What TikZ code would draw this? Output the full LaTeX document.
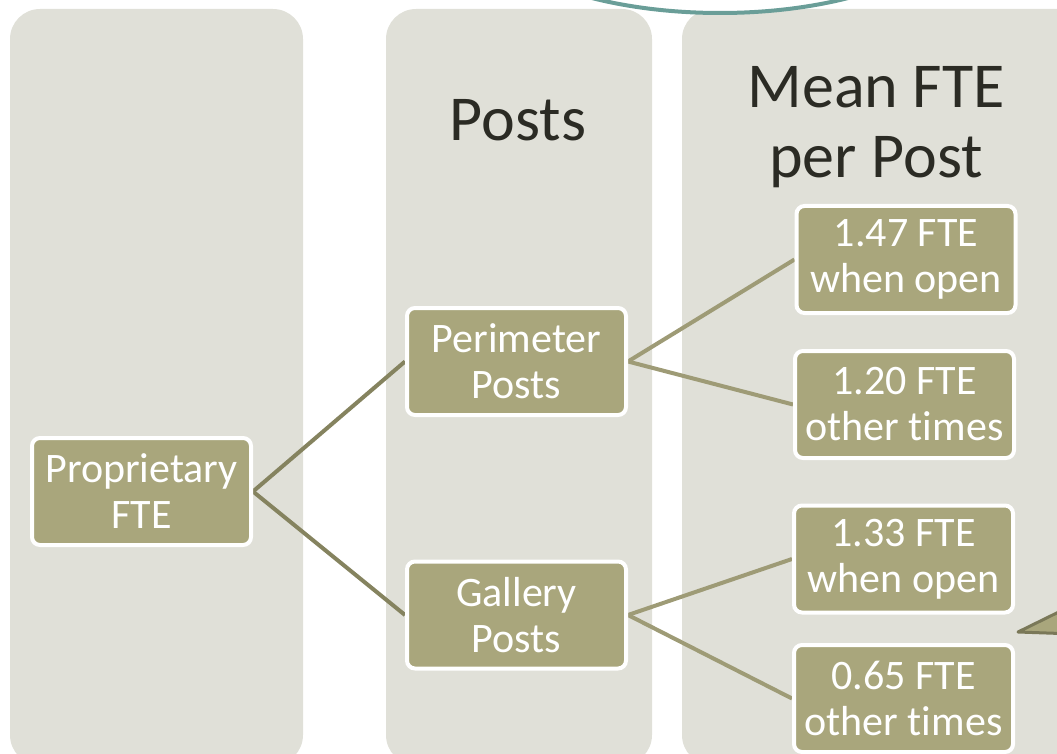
\documentclass[tikz,border=0pt]{standalone}
\usepackage{fontspec}
\setsansfont{Carlito}[RawFeature=-liga]
\usetikzlibrary{backgrounds}
\definecolor{colbg}{HTML}{E0E0D8}
\definecolor{boxfill}{HTML}{A9A67C}
\definecolor{linkdark}{HTML}{85835F}
\definecolor{linklight}{HTML}{9E9B76}
\definecolor{titletext}{HTML}{2B2B24}
\definecolor{ringteal}{HTML}{6A9E98}
\definecolor{calloutline}{HTML}{7A7858}
\tikzset{every picture/.style={/utils/exec={\sffamily}}}
\tikzset{col/.style={fill=colbg,rounded corners=30pt}}
\tikzset{box/.style={fill=boxfill,draw=white,line width=4pt,rounded corners=8pt,text=white,align=center,
    minimum width=219pt,minimum height=107pt,inner sep=0pt,font=\fontsize{42}{46}\selectfont}}
\tikzset{link/.style={line width=4pt}}
\tikzset{title/.style={text=titletext,align=center,font=\fontsize{64}{70}\selectfont}}

\begin{document}
\begin{tikzpicture}[x=1pt,y=-1pt]
    \useasboundingbox (0,0) rectangle (1057,754);
    % value boxes
    \node[box] (prop) at (141.5,491.5) {Proprietary\\FTE};
    \node[box] (perim) at (516.5,361.5) {Perimeter\\Posts};
    \node[box] (gall) at (516.5,615) {Gallery\\Posts};
    \node[box] (popen) at (906,259.5) {1.47 FTE\\when open};
    \node[box] (pother) at (904.5,404.5) {1.20 FTE\\other times};
    \node[box] (gopen) at (903.5,559) {1.33 FTE\\when open};
    \node[box] (gother) at (903.5,698.5) {0.65 FTE\\other times};
    % column heads
    \node[title] (posthead) at (518,120) {Posts};
    \node[title] (meanhead) at (876,127) {Mean FTE\\per Post};
    \begin{pgfonlayer}{background}
        \fill[col] (10,9) rectangle (303,765);
        \fill[col] (386,9) rectangle (652,765);
        \fill[col] (682,9) rectangle (1110,765);
        \draw[ringteal,line width=4pt,fill=white] (720,-95) ellipse [x radius=252pt,y radius=108pt];
        \draw[link,linkdark] (prop.east) -- (perim.west);
        \draw[link,linkdark] (prop.east) -- (gall.west);
        \draw[link,linklight] (perim.east) -- (popen.west);
        \draw[link,linklight] (perim.east) -- (pother.west);
        \draw[link,linklight] (gall.east) -- (gopen.west);
        \draw[link,linklight] (gall.east) -- (gother.west);
    \end{pgfonlayer}
    % callout tip at the right edge
    \filldraw[fill=boxfill,draw=calloutline,line width=3pt,line join=round]
        (1018,632) -- (1075,604) -- (1075,634) -- cycle;
\end{tikzpicture}
\end{document}
